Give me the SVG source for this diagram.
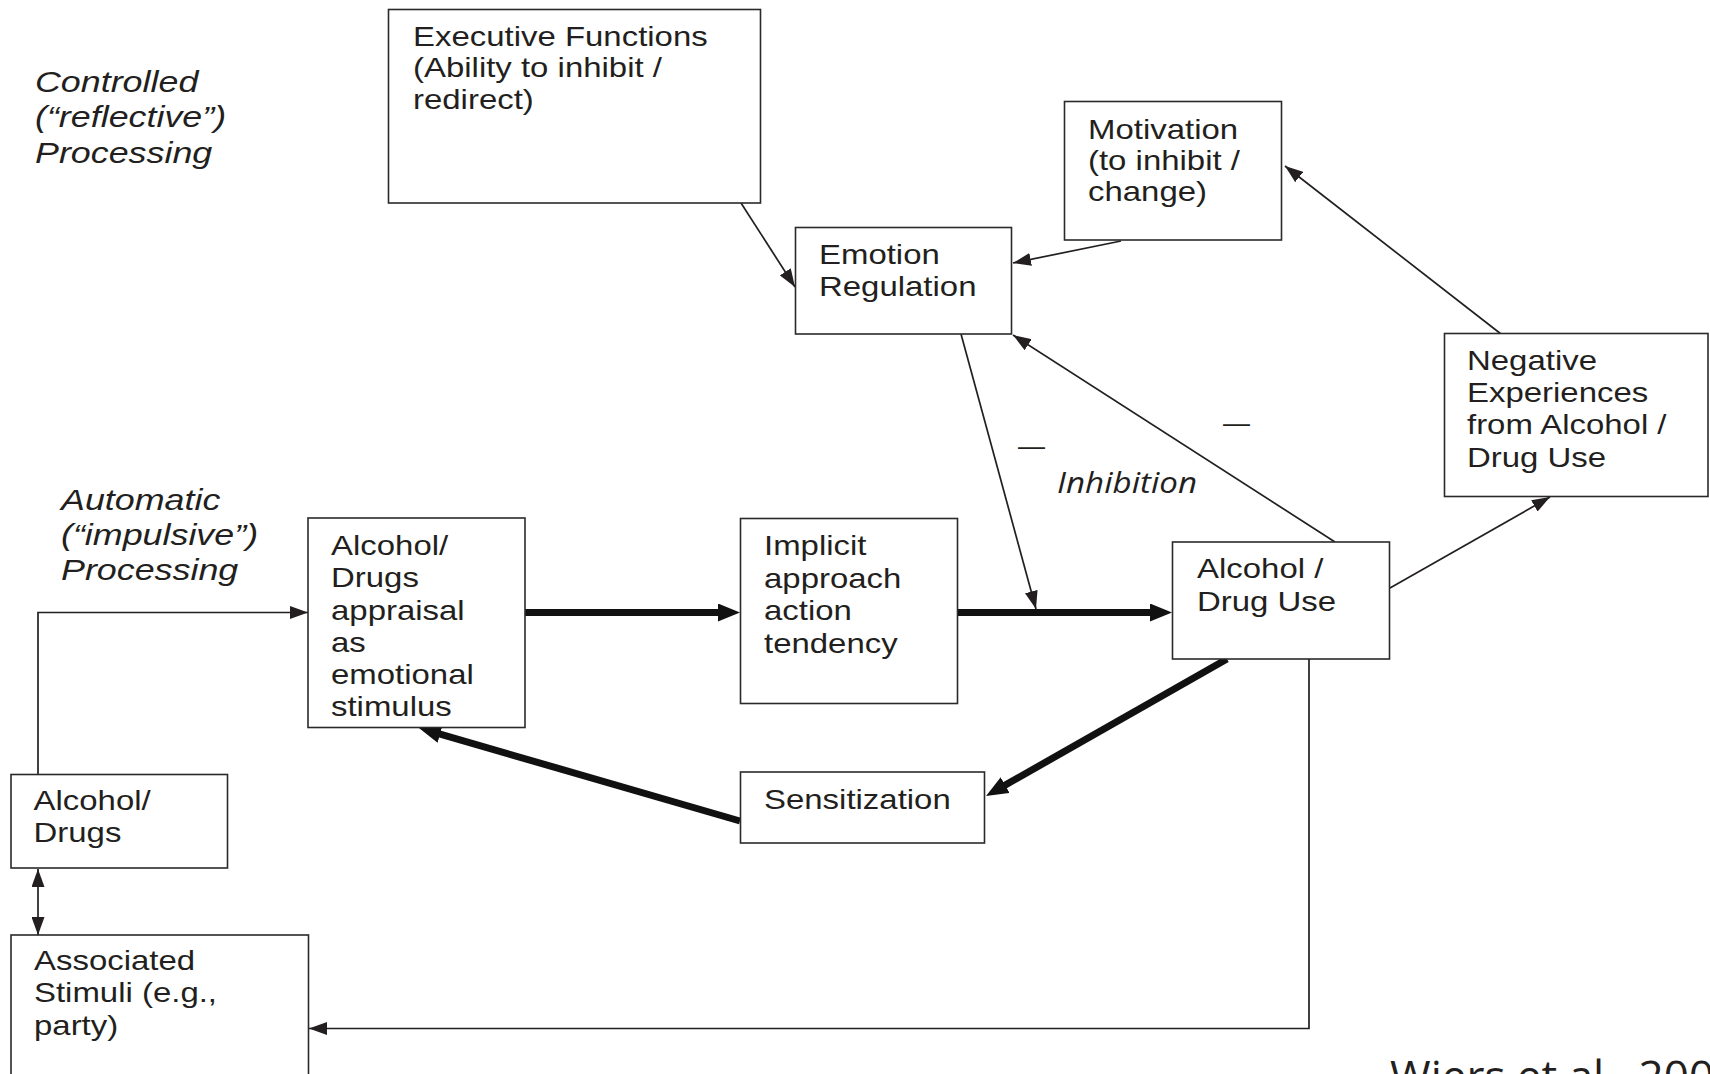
<svg xmlns="http://www.w3.org/2000/svg" width="1710" height="1074" viewBox="0 0 1710 1074">
  <defs>
    <style>
      .box { fill: #ffffff; stroke: #2a2a2a; stroke-width: 1.6; }
      .t { font-family: "Liberation Sans", Arial, Helvetica, sans-serif; font-size: 27px; fill: #231f20; }
      .lbl { font-family: "Liberation Sans", Arial, Helvetica, sans-serif; font-size: 29.5px; font-style: italic; fill: #231f20; }
      .note { font-family: "Open Sans", "Liberation Sans", sans-serif; fill: #231f20; }
      .thin { fill: none; stroke: #231f20; stroke-width: 1.7; }
      .thick { fill: none; stroke: #111111; stroke-width: 7; }
    </style>
    <marker id="ah" viewBox="0 0 18 13" refX="18" refY="6.5" markerWidth="18" markerHeight="13" markerUnits="userSpaceOnUse" orient="auto-start-reverse">
      <path d="M0,0 L18,6.5 L0,13 z" fill="#231f20"/>
    </marker>
    <marker id="ahBig" viewBox="0 0 22 18" refX="8" refY="9" markerWidth="22" markerHeight="18" markerUnits="userSpaceOnUse" orient="auto">
      <path d="M0,0 L22,9 L0,18 z" fill="#111111"/>
    </marker>
  </defs>

  <rect width="1710" height="1074" fill="#ffffff"/>

  <!-- side labels for the two processing levels -->
  <text class="lbl" transform="translate(35,92) scale(1.215,1)"><tspan x="0" y="0">Controlled</tspan><tspan x="0" y="35.5">(“reflective”)</tspan><tspan x="0" y="71">Processing</tspan></text>
  <text class="lbl" transform="translate(61,510) scale(1.215,1)"><tspan x="0" y="0">Automatic</tspan><tspan x="0" y="35">(“impulsive”)</tspan><tspan x="0" y="70">Processing</tspan></text>

  <!-- connectors -->
  <g id="connectors">
    <path class="thin" d="M741,203 L795,287" marker-end="url(#ah)"/>
    <path class="thin" d="M1121,241 L1013,263" marker-end="url(#ah)"/>
    <path class="thin" d="M1501,334 L1285,166" marker-end="url(#ah)"/>
    <path class="thin" d="M1390,588 L1550,497" marker-end="url(#ah)"/>
    <path class="thin" d="M1335,542 L1013,335" marker-end="url(#ah)"/>
    <path class="thin" d="M961,334 L1036,609" marker-end="url(#ah)"/>
    <path class="thin" d="M38,775 V612.5 H308" marker-end="url(#ah)"/>
    <path class="thin" d="M38,869 V935" marker-start="url(#ah)" marker-end="url(#ah)"/>
    <path class="thin" d="M1309,659 V1028.5 H309" marker-end="url(#ah)"/>
    <path class="thick" d="M525,612.5 H726" marker-end="url(#ahBig)"/>
    <path class="thick" d="M958,612.5 H1158" marker-end="url(#ahBig)"/>
    <path class="thick" d="M1227,659 L998.2,789.1" marker-end="url(#ahBig)"/>
    <path class="thick" d="M740,821 L432.4,731.9" marker-end="url(#ahBig)"/>
  </g>

  <!-- inhibition label and minus signs -->
  <text class="t" x="1018" y="455" font-size="26">—</text>
  <text class="t" x="1223" y="432" font-size="26">—</text>
  <text class="note" x="1057" y="493" font-size="30" font-style="italic" textLength="140" lengthAdjust="spacingAndGlyphs">Inhibition</text>

  <g id="executive-functions">
    <rect class="box" x="388.5" y="9.5" width="372" height="193.5"/>
    <text class="t" transform="translate(413,46) scale(1.22,1)"><tspan x="0" y="0">Executive Functions</tspan><tspan x="0" y="31.5">(Ability to inhibit /</tspan><tspan x="0" y="63">redirect)</tspan></text>
  </g>

  <g id="emotion-regulation">
    <rect class="box" x="795.5" y="227.5" width="216" height="106.5"/>
    <text class="t" transform="translate(819,264) scale(1.22,1)"><tspan x="0" y="0">Emotion</tspan><tspan x="0" y="32.5">Regulation</tspan></text>
  </g>

  <g id="motivation">
    <rect class="box" x="1064.5" y="101.5" width="217" height="138.5"/>
    <text class="t" transform="translate(1088,138.5) scale(1.22,1)"><tspan x="0" y="0">Motivation</tspan><tspan x="0" y="31.5">(to inhibit /</tspan><tspan x="0" y="63">change)</tspan></text>
  </g>

  <g id="negative-experiences">
    <rect class="box" x="1444.5" y="333.5" width="263.5" height="163"/>
    <text class="t" transform="translate(1467,369.5) scale(1.22,1)"><tspan x="0" y="0">Negative</tspan><tspan x="0" y="32.5">Experiences</tspan><tspan x="0" y="65">from Alcohol /</tspan><tspan x="0" y="97.5">Drug Use</tspan></text>
  </g>

  <g id="appraisal">
    <rect class="box" x="308" y="518" width="217" height="209.5"/>
    <text class="t" transform="translate(331,555) scale(1.22,1)"><tspan x="0" y="0">Alcohol/</tspan><tspan x="0" y="32.3">Drugs</tspan><tspan x="0" y="64.6">appraisal</tspan><tspan x="0" y="96.9">as</tspan><tspan x="0" y="129.2">emotional</tspan><tspan x="0" y="161.5">stimulus</tspan></text>
  </g>

  <g id="implicit-approach">
    <rect class="box" x="740.5" y="518.5" width="217" height="185"/>
    <text class="t" transform="translate(764,555) scale(1.22,1)"><tspan x="0" y="0">Implicit</tspan><tspan x="0" y="32.6">approach</tspan><tspan x="0" y="65.2">action</tspan><tspan x="0" y="97.8">tendency</tspan></text>
  </g>

  <g id="drug-use">
    <rect class="box" x="1172.5" y="542" width="217" height="117"/>
    <text class="t" transform="translate(1197,578) scale(1.22,1)"><tspan x="0" y="0">Alcohol /</tspan><tspan x="0" y="33">Drug Use</tspan></text>
  </g>

  <g id="sensitization">
    <rect class="box" x="740.5" y="772" width="244" height="71"/>
    <text class="t" transform="translate(764,808.5) scale(1.22,1)"><tspan x="0" y="0">Sensitization</tspan></text>
  </g>

  <g id="alcohol-drugs">
    <rect class="box" x="11" y="774.5" width="216.5" height="93.5"/>
    <text class="t" transform="translate(33.5,810) scale(1.22,1)"><tspan x="0" y="0">Alcohol/</tspan><tspan x="0" y="32.5">Drugs</tspan></text>
  </g>

  <g id="associated-stimuli">
    <rect class="box" x="11" y="935" width="297.5" height="160"/>
    <text class="t" transform="translate(34,970) scale(1.22,1)"><tspan x="0" y="0">Associated</tspan><tspan x="0" y="32.5">Stimuli (e.g.,</tspan><tspan x="0" y="65">party)</tspan></text>
  </g>

  <!-- source note along the bottom edge -->
  <text class="note" x="1390" y="1092" font-size="44">Wiers et al., 200</text>
</svg>
